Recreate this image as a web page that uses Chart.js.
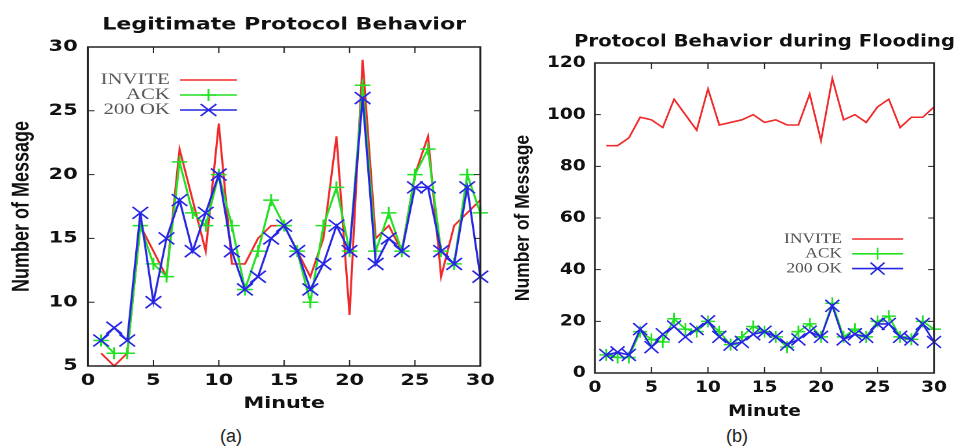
<!DOCTYPE html>
<html>
<head>
<meta charset="utf-8">
<script src="https://cdn.jsdelivr.net/npm/chart.js@4.4.1/dist/chart.umd.min.js"></script>
<style>
  html, body { margin: 0; padding: 0; background: #fff; width: 960px; height: 448px; overflow: hidden; }
  .wrap { position: absolute; top: 0; transform-origin: 0 0; }
  #wa { left: 0px; width: 386px; height: 420px; transform: scaleX(1.3); }
  #wb { left: 480px; width: 412px; height: 425px; transform: scaleX(1.16); }
  .cap { position: absolute; top: 426px; font-family: "Liberation Sans", Arial, sans-serif; font-size: 18px; color: #222; width: 60px; text-align: center; }
</style>
</head>
<body>
<div class="wrap" id="wa"><canvas id="ca"></canvas></div>
<div class="wrap" id="wb"><canvas id="cb"></canvas></div>
<div class="cap" style="left:201px">(a)</div>
<div class="cap" style="left:707px">(b)</div>
<script>
// ---- data ----
const minutes = [1,2,3,4,5,6,7,8,9,10,11,12,13,14,15,16,17,18,19,20,21,22,23,24,25,26,27,28,29,30];
const seriesNames = ['INVITE', 'ACK', '200 OK'];
const titleA = 'Legitimate Protocol Behavior';
const titleB = 'Protocol Behavior during Flooding';
const xTitle = 'Minute';
const yTitle = 'Number of Message';
const inviteLegit = [6,5,6,16,14,12,22,18,14,24,13,13,15,16,16,14,12,15,23,9,29,15,16,14,20,23,12,16,17,18];
const ackLegit    = [7,6,6,16,13,12,21,17,16,20,16,11,14,18,16,14,10,16,19,14,27,14,17,14,20,22,14,13,20,17];
const okLegit     = [7,8,7,17,10,15,18,14,17,20,14,11,12,15,16,14,11,13,16,14,26,13,15,14,19,19,14,13,19,12];
const inviteFlood = [88,88,91,99,98,95,106,100,94,110,96,97,98,100,97,98,96,96,108,90,114,98,100,97,103,106,95,99,99,103];
const ackFlood    = [7,6,6,16,13,12,21,17,16,20,16,11,14,18,16,14,10,16,19,14,27,14,17,14,20,22,14,13,20,17];
const okFlood     = [7,8,7,17,10,15,18,14,17,20,14,11,12,15,16,14,11,13,16,14,26,13,15,14,19,19,14,13,19,12];
const xTicks = { min: 0, max: 30, step: 5 };
const yTicksA = { min: 5, max: 30, step: 5 };
const yTicksB = { min: 0, max: 120, step: 20 };

// ---- styles ----
const RED = '#f02a2a', GREEN = '#22e022', BLUE = '#2626e4';
const INK = '#111';
const tickFont = { family: 'DejaVu Sans', weight: 'bold', size: 16 };

function pts(vals) { return minutes.map((m, i) => ({ x: m, y: vals[i] })); }

function datasets(inv, ack, ok) {
  return [
    { label: seriesNames[0], data: pts(inv), borderColor: RED, borderWidth: 1.6, pointRadius: 0, order: 3, clip: false, tension: 0 },
    { label: seriesNames[1], data: pts(ack), borderColor: GREEN, borderWidth: 1.6, pointStyle: 'cross', pointRadius: 6, pointBorderWidth: 1.5, pointBorderColor: GREEN, order: 2, clip: false, tension: 0 },
    { label: seriesNames[2], data: pts(ok), borderColor: BLUE, borderWidth: 1.6, pointStyle: 'crossRot', pointRadius: 8.5, pointBorderWidth: 1.5, pointBorderColor: BLUE, order: 1, clip: false, tension: 0 }
  ];
}

// frame + inward ticks on all four sides (gnuplot style)
const frameTicks = {
  id: 'frameTicks',
  afterDatasetsDraw(chart, args, o) {
    const { ctx, chartArea: a, scales } = chart;
    ctx.save();
    ctx.strokeStyle = o.color;
    ctx.lineWidth = 1;
    ctx.beginPath();
    scales.x.ticks.forEach(t => {
      const px = scales.x.getPixelForValue(t.value);
      if (px <= a.left + 1 || px >= a.right - 1) return;
      ctx.moveTo(px, a.bottom); ctx.lineTo(px, a.bottom - o.lenX);
      ctx.moveTo(px, a.top); ctx.lineTo(px, a.top + o.lenX);
    });
    scales.y.ticks.forEach(t => {
      const py = scales.y.getPixelForValue(t.value);
      if (py <= a.top + 1 || py >= a.bottom - 1) return;
      ctx.moveTo(a.left, py); ctx.lineTo(a.left + o.lenY, py);
      ctx.moveTo(a.right, py); ctx.lineTo(a.right - o.lenY, py);
    });
    ctx.stroke();
    ctx.lineWidth = o.borderWidth;
    ctx.strokeRect(a.left, a.top, a.right - a.left, a.bottom - a.top);
    ctx.restore();
  }
};

// chart title centred over the plot area (may be wider than the plot)
const plotTitle = {
  id: 'plotTitle',
  afterDraw(chart, args, o) {
    const { ctx, chartArea: a } = chart;
    ctx.save();
    ctx.font = o.font;
    ctx.fillStyle = o.color;
    ctx.textAlign = 'center';
    ctx.textBaseline = 'middle';
    ctx.fillText(o.text, (a.left + a.right) / 2, o.y);
    ctx.restore();
  }
};

// gnuplot-like key: text right-aligned, sample line to the right
const sideLegend = {
  id: 'sideLegend',
  afterDatasetsDraw(chart, args, o) {
    const { ctx, chartArea: a } = chart;
    ctx.save();
    chart.data.datasets.forEach((ds, i) => {
      const yy = a.top + o.top + i * o.rowGap;
      ctx.font = o.font;
      ctx.fillStyle = o.color;
      ctx.textAlign = 'right';
      ctx.textBaseline = 'middle';
      ctx.fillText(ds.label, a.left + o.textRight, yy);
      const x1 = a.left + o.lineStart, x2 = a.left + o.lineEnd, xm = (x1 + x2) / 2;
      ctx.strokeStyle = ds.borderColor;
      ctx.lineWidth = ds.borderWidth;
      ctx.beginPath(); ctx.moveTo(x1, yy); ctx.lineTo(x2, yy); ctx.stroke();
      if (ds.pointRadius > 0) {
        const r = ds.pointRadius;
        ctx.lineWidth = ds.pointBorderWidth;
        ctx.beginPath();
        if (ds.pointStyle === 'cross') {
          ctx.moveTo(xm - r, yy); ctx.lineTo(xm + r, yy);
          ctx.moveTo(xm, yy - r); ctx.lineTo(xm, yy + r);
        } else {
          const d = r * Math.SQRT1_2;
          ctx.moveTo(xm - d, yy - d); ctx.lineTo(xm + d, yy + d);
          ctx.moveTo(xm - d, yy + d); ctx.lineTo(xm + d, yy - d);
        }
        ctx.stroke();
      }
    });
    ctx.restore();
  }
};

function makeChart(id, dsets, title, yT, geo, legendPos) {
  return new Chart(document.getElementById(id), {
    type: 'line',
    data: { datasets: dsets },
    plugins: [frameTicks, sideLegend, plotTitle],
    options: {
      responsive: true,
      maintainAspectRatio: false,
      devicePixelRatio: 2,
      animation: false,
      events: [],
      layout: { padding: { left: 0, right: geo.padRight, top: geo.top, bottom: geo.padBottom } },
      plugins: {
        legend: { display: false },
        tooltip: { enabled: false },
        title: { display: false },
        plotTitle: { text: title, y: geo.titleY, font: 'bold 17px "DejaVu Sans", sans-serif', color: INK },
        frameTicks: { color: '#222', lenX: 6, lenY: 5, borderWidth: 1.5 },
        sideLegend: legendPos
      },
      scales: {
        x: {
          type: 'linear', position: 'bottom', min: xTicks.min, max: xTicks.max,
          ticks: { stepSize: xTicks.step, font: tickFont, color: INK, padding: 5.4, maxRotation: 0 },
          grid: { display: false, drawTicks: false }, border: { display: false },
          title: { display: true, text: xTitle, font: { family: 'DejaVu Sans', weight: 'bold', size: 16 }, color: INK, padding: { top: 0, bottom: geo.xTitlePad } },
          afterFit(s) { s.height = 50; }
        },
        y: {
          type: 'linear', position: 'left', min: yT.min, max: yT.max,
          ticks: { stepSize: yT.step, font: tickFont, color: INK, padding: 8 },
          grid: { display: false, drawTicks: false }, border: { display: false },
          title: { display: true, text: yTitle, font: { family: 'Liberation Sans', weight: 'bold', size: geo.yTitleSize }, color: INK, padding: { top: geo.yTitlePad, bottom: 0 } },
          afterFit(s) { s.width = geo.yWidth; }
        }
      }
    }
  });
}

makeChart('ca', datasets(inviteLegit, ackLegit, okLegit), titleA, yTicksA,
  { padRight: 14.5, padBottom: 4, top: 47, titleY: 25, xTitlePad: 2.4, yTitlePad: 6.2, yTitleSize: 18, yWidth: 67.7 },
  { font: '16px "Liberation Serif", serif', color: '#555', top: 33, rowGap: 15, textRight: 63, lineStart: 70.8, lineEnd: 114.6 });

makeChart('cb', datasets(inviteFlood, ackFlood, okFlood), titleB, yTicksB,
  { padRight: 20.6, padBottom: 2, top: 63, titleY: 42, xTitlePad: 1.4, yTitlePad: 26.6, yTitleSize: 17.5, yWidth: 99.1 },
  { font: '15px "Liberation Serif", serif', color: '#555', top: 176, rowGap: 14.8, textRight: 213, lineStart: 221.6, lineEnd: 265.6 });
</script>
</body>
</html>
